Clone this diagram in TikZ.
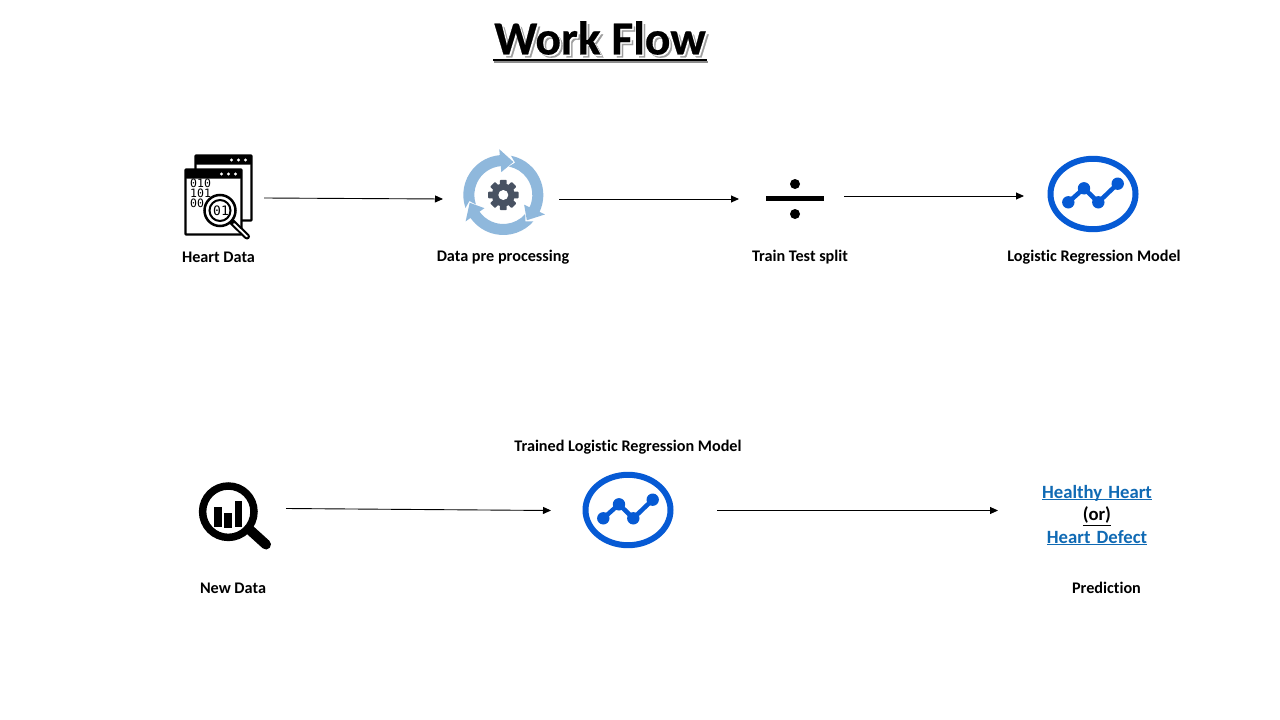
\documentclass[tikz,border=0pt]{standalone}
\usepackage{fontspec}
\setmainfont{Carlito}[Ligatures=NoCommon]
\newfontfamily\binfont{DejaVu Sans Mono}
\newfontfamily\titlefont{Carlito}[Ligatures=NoCommon,BoldFeatures={FakeBold=0.5}]
\usetikzlibrary{arrows.meta}
\definecolor{chartblue}{RGB}{6,90,212}
\definecolor{ringblue}{RGB}{143,184,220}
\definecolor{gearslate}{RGB}{72,82,98}
\definecolor{linkblue}{RGB}{16,106,180}
\tikzset{
  iconbox/.style={inner sep=0pt,outer sep=0pt,minimum width=#1},
  lbl/.style={font=\fontsize{16.2}{18}\selectfont\bfseries,text=black,inner sep=0pt,anchor=base},
  flow/.style={-{Triangle[length=8pt,width=7pt]},line width=.9pt,black},
  titletext/.style={font=\titlefont\fontsize{47.5}{52}\selectfont\bfseries,inner sep=0pt},
  pics/chart/.style={code={
    \draw[chartblue,line width=6pt] (0,0) ellipse[x radius=42.5pt,y radius=35.2pt];
    \draw[chartblue,line width=4.5pt] (-24.7,8.3) -- (-9,-5.7) -- (5.3,8.3) -- (24.7,-10.3);
    \foreach \p in {(-24.7,8.3),(-9,-5.7),(5.3,8.3),(24.7,-10.3)} \fill[chartblue] \p circle[radius=6.2pt];
  }},
  pics/window/.style={code={
    \draw[black,fill=white,line width=2.4pt,rounded corners=.8pt] (0,0) rectangle (56,65);
    \fill[black,rounded corners=.8pt] (0,0) rectangle (56,9);
    \foreach \q in {36,43,50} \fill[white] (\q,4.5) circle[radius=1.6pt];
  }}
}
\newcommand{\ringarrow}[1]{%
  \pgfmathsetmacro{\aT}{#1+126}\pgfmathsetmacro{\aN}{#1+117}\pgfmathsetmacro{\aH}{#1+22}%
  \fill[ringblue] (\aT:40pt) arc[start angle=\aT,end angle=\aH,radius=40pt] -- (\aH:46pt) -- (#1:34.5pt) -- (\aH:23pt) -- (\aH:29pt) arc[start angle=\aH,end angle=\aT,radius=29pt] -- (\aN:34.5pt) -- cycle;}
\begin{document}
\begin{tikzpicture}[x=1pt,y=-1pt]
\useasboundingbox[fill=white] (0,0) rectangle (1280,720);

% title
\node[titletext,text=black!38] (titleshadow) at (603,41) {Work Flow};
\node[titletext,text=white] (titlehalo) at (601.5,39.5) {Work Flow};
\node[titletext,text=black] (title) at (600,38) {Work Flow};
\draw[black!45,line width=2pt] (493.5,62) -- (707.5,62);
\draw[black,line width=2pt] (493,59.5) -- (707,59.5);

% icon frames used as connector anchors
\node[iconbox=84pt,minimum height=90pt] (hd) at (222,198) {};
\node[iconbox=116pt,minimum height=90pt] (dp) at (501,199) {};
\node[iconbox=105pt,minimum height=60pt] (ts) at (791.5,199) {};
\node[iconbox=138pt,minimum height=84pt] (lr) at (1093,196) {};
\node[iconbox=100pt,minimum height=70pt] (nd) at (236,510) {};
\node[iconbox=166pt,minimum height=84pt] (tl) at (634,510.5) {};

% heart data icon
\begin{scope}[shift={(195.5,155.5)}]\pic {window};\end{scope}
\begin{scope}[shift={(185.5,169.5)}]\pic {window};\end{scope}
\node[inner sep=0pt,font=\binfont\fontsize{11.5}{12}\selectfont,anchor=west] (b1) at (190,183.5) {010};
\node[inner sep=0pt,font=\binfont\fontsize{11.5}{12}\selectfont,anchor=west] (b2) at (190,193.5) {101};
\node[inner sep=0pt,font=\binfont\fontsize{11.5}{12}\selectfont,anchor=west] (b3) at (190,203.5) {00};
\draw[black,line width=6pt,line cap=round] (231,221) -- (247,236.5);
\draw[white,line width=1.8pt,line cap=round] (234,224) -- (247,236.5);
\draw[black,fill=white,line width=2.5pt] (220,210.5) circle[radius=15.5pt];
\draw[black,line width=2pt] (220,210.5) circle[radius=10.5pt];
\node[inner sep=0pt,font=\binfont\fontsize{13}{14}\selectfont] (b4) at (221,210.5) {01};

% pre-processing icon
\begin{scope}[shift={(503.3,195)}]
  \ringarrow{73}\ringarrow{-47}\ringarrow{193}
  \fill[gearslate] (0,0) circle[radius=11.5pt];
  \foreach \g in {0,45,...,315}
    \fill[gearslate,rotate=\g,rounded corners=.8pt] (-3.4,-15.2) rectangle (3.4,-8);
  \fill[white] (0,0) circle[radius=5pt];
\end{scope}

% divide icon
\fill[black] (766,196.2) rectangle (824,200.8);
\fill[black] (795,184) circle[radius=5pt];
\fill[black] (795,214) circle[radius=5pt];

% chart icons
\pic at (1093,194) {chart};
\pic at (628,510) {chart};

% new data icon
\draw[black,line width=10pt,line cap=round] (250,530) -- (266,544.5);
\draw[black,line width=7.5pt] (228.3,511.7) circle[radius=25.7pt];
\fill[black] (214.3,507.3) rectangle (221.7,526.7);
\fill[black] (224.3,513.3) rectangle (231.7,527.5);
\fill[black] (235,501.3) rectangle (242.3,526.7);

% labels
\node[lbl] (l1) at (218.5,262) {Heart Data};
\node[lbl] (l2) at (503,261) {Data pre processing};
\node[lbl] (l3) at (800,261) {Train Test split};
\node[lbl] (l4) at (1094,261) {Logistic Regression Model};
\node[lbl] (l5) at (628,451) {Trained Logistic Regression Model};
\node[lbl] (l6) at (233,593) {New Data};
\node[lbl] (l7) at (1106.5,593) {Prediction};

\node[inner sep=0pt,outer sep=0pt,text width=198pt,align=center,
      font=\fontsize{18.7}{22.5}\selectfont\bfseries] (pred) at (1097,521.5)
  {\textcolor{linkblue}{\underline{\smash{Healthy Heart}}}\\ \underline{(or)}\\ \textcolor{linkblue}{\underline{\smash{Heart Defect}}}};

% connectors
\draw[flow] (hd.east) -- (dp.west);
\draw[flow] (dp.east) -- (ts.west);
\draw[flow] ([yshift=3pt]ts.east) -- (lr.west);
\draw[flow] ([yshift=1.5pt]nd.east) -- (tl.west);
\draw[flow] (tl.east) -- (tl.east -| pred.west);
\end{tikzpicture}
\end{document}
